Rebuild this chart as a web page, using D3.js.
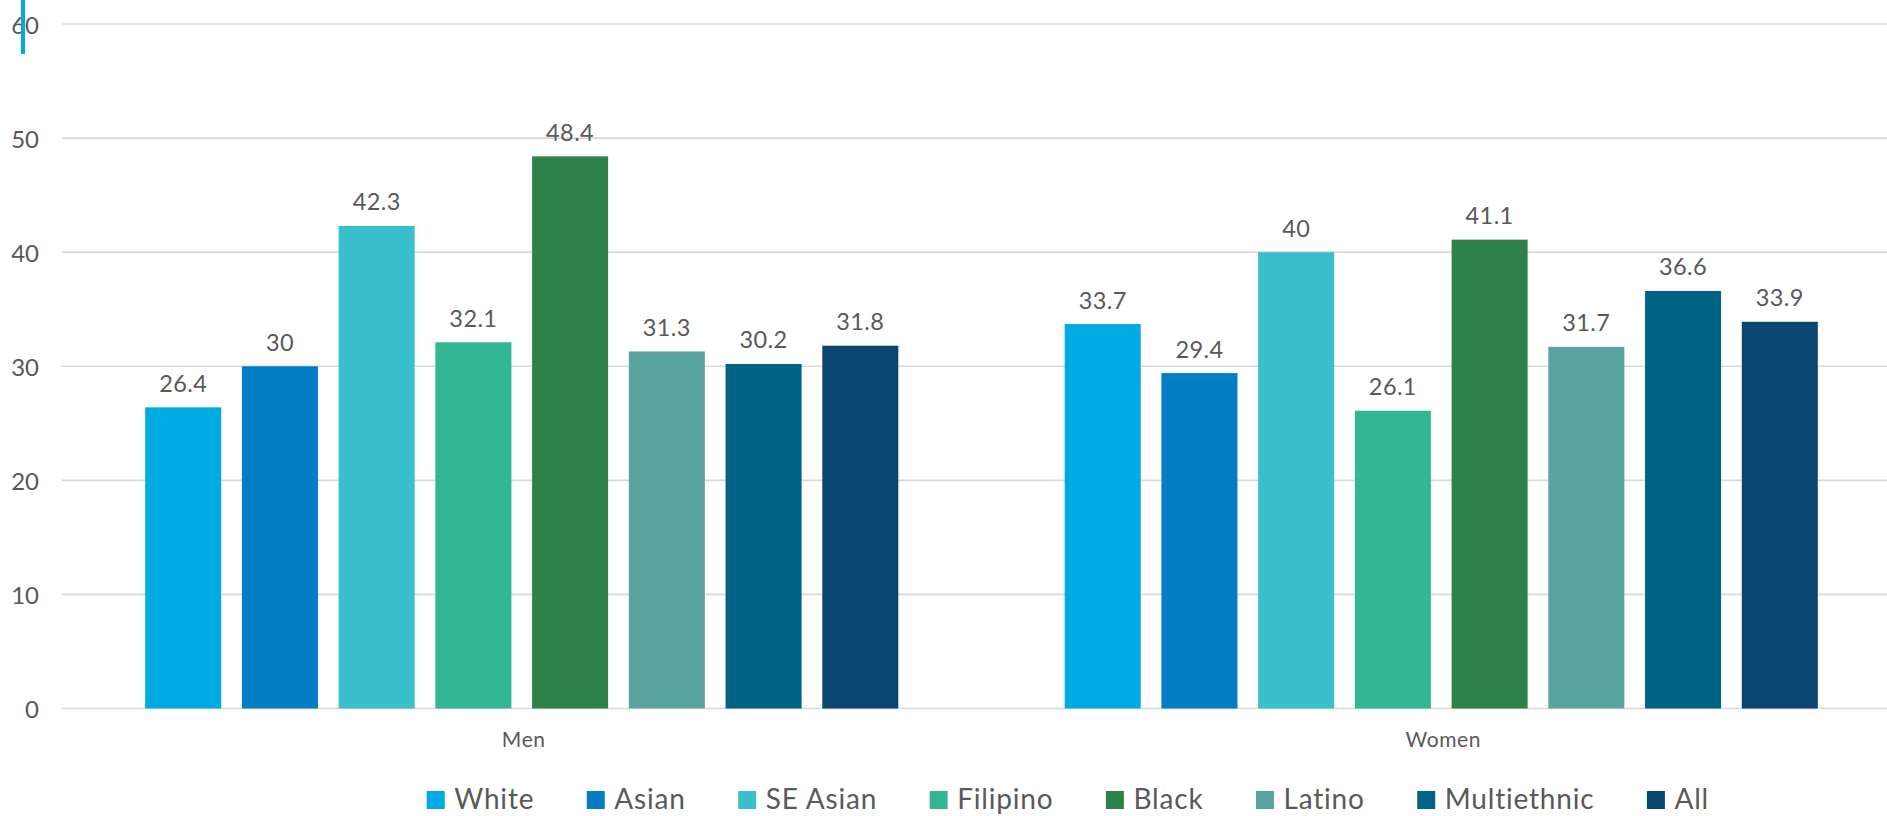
<!DOCTYPE html>
<html>
<head>
<meta charset="utf-8">
<script src="https://cdn.jsdelivr.net/npm/d3@7"></script>
<style>
  html, body { margin: 0; padding: 0; background: #ffffff; }
  svg { display: block; }
  text { font-family: Lato, "Open Sans", sans-serif; fill: #595959; }
</style>
</head>
<body>
<svg id="chart" width="1887" height="816"></svg>
<script>
// ---- data ----
const categories = ["Men", "Women"];
const series = ["White", "Asian", "SE Asian", "Filipino", "Black", "Latino", "Multiethnic", "All"];
const menValues = [26.4, 30, 42.3, 32.1, 48.4, 31.3, 30.2, 31.8];
const womenValues = [33.7, 29.4, 40, 26.1, 41.1, 31.7, 36.6, 33.9];
const yTicks = [0, 10, 20, 30, 40, 50, 60];
const seriesColors = ["#00AAE2", "#007DC3", "#3ABFCC", "#33B693", "#2E8249", "#5BA39F", "#006284", "#0B4670"];

const valuesByCategory = { Men: menValues, Women: womenValues };

const svg = d3.select("#chart");
const W = 1887, H = 816;

const x0 = d3.scaleBand().domain(categories).range([62, 1901]).padding(0);
const x1 = d3.scaleBand().domain(series).range([0, x0.bandwidth()])
  .paddingInner(0.214).paddingOuter(0.86);
const y = d3.scaleLinear().domain([0, 60]).range([708.5, 24]);
const color = d3.scaleOrdinal().domain(series).range(seriesColors);

// gridlines
svg.append("g").selectAll("line").data(yTicks).join("line")
  .attr("x1", 62).attr("x2", W)
  .attr("y1", d => y(d)).attr("y2", d => y(d))
  .attr("stroke", "#d9d9d9").attr("stroke-width", 1.6);

// y tick labels
svg.append("g").selectAll("text").data(yTicks).join("text")
  .attr("x", 39).attr("y", d => y(d))
  .attr("text-anchor", "end").attr("dominant-baseline", "central")
  .style("font-size", "24px")
  .text(d => d);

// accent line top-left
svg.append("rect").attr("x", 21).attr("y", 0).attr("width", 4).attr("height", 54)
  .attr("fill", "#00AAE2");

// bars
const groups = svg.append("g").selectAll("g").data(categories).join("g")
  .attr("transform", c => `translate(${x0(c)},0)`);

groups.selectAll("rect").data(c => series.map((s, i) => ({ s, v: valuesByCategory[c][i] })))
  .join("rect")
  .attr("x", d => x1(d.s))
  .attr("width", x1.bandwidth())
  .attr("y", d => y(d.v))
  .attr("height", d => y(0) - y(d.v))
  .attr("fill", d => color(d.s));

groups.selectAll("text.val").data(c => series.map((s, i) => ({ s, v: valuesByCategory[c][i] })))
  .join("text").attr("class", "val")
  .attr("x", d => x1(d.s) + x1.bandwidth() / 2)
  .attr("y", d => y(d.v) - 15.5)
  .attr("text-anchor", "middle")
  .style("font-size", "23.5px")
  .style("letter-spacing", "0.4px")
  .text(d => d.v);

// category labels
svg.append("g").selectAll("text").data(categories).join("text")
  .attr("x", c => x0(c) + x0.bandwidth() / 2 + 2)
  .attr("y", 746.5)
  .attr("text-anchor", "middle")
  .style("font-size", "21px")
  .style("letter-spacing", "0.6px")
  .text(c => c);

// legend
const legend = svg.append("g");
let lx = 426.7;
series.forEach((s, i) => {
  legend.append("rect").attr("x", lx).attr("y", 791).attr("width", 18).attr("height", 18)
    .attr("fill", seriesColors[i]);
  const t = legend.append("text").attr("x", lx + 27.6).attr("y", 809)
    .style("font-size", "28px").style("letter-spacing", "0.8px").text(s);
  const w = t.node().getComputedTextLength();
  lx = lx + 27.6 + w + 52.5;
});
</script>
</body>
</html>
